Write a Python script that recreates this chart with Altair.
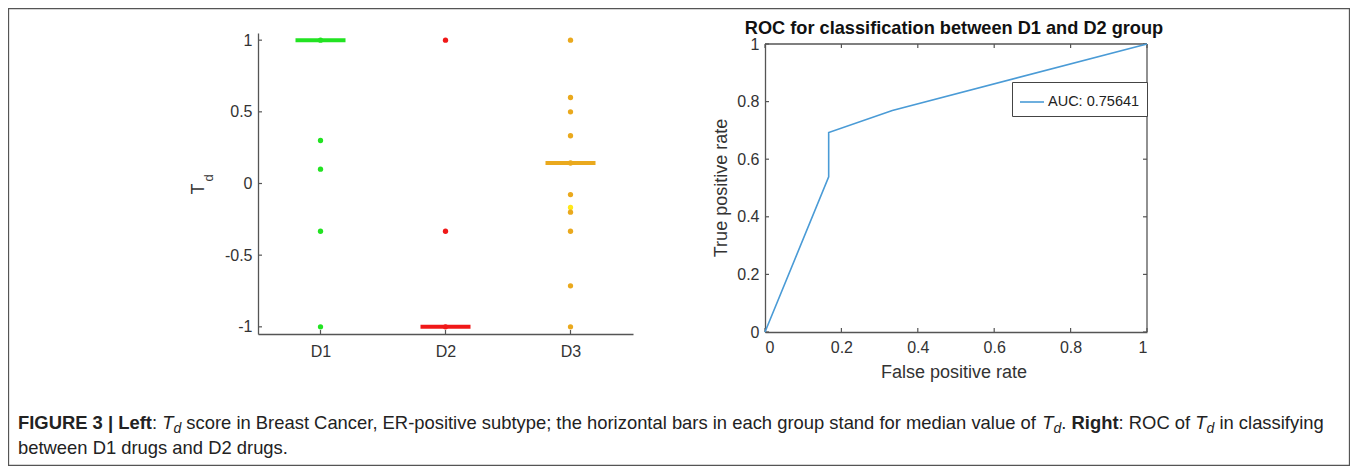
import altair as alt
import pandas as pd

# ---------------- data ----------------
categories = ["D1", "D2", "D3"]
d1_scores = [1.0, 0.3, 0.1, -0.333, -1.0]
d2_scores = [1.0, -0.333, -1.0]
d3_scores = [1.0, 0.6, 0.5, 0.333, 0.143, -0.077, -0.2, -0.333, -0.714, -1.0]
d3_light_scores = [-0.167]
median_scores = [1.0, -1.0, 0.143]
left_ticks = [-1, -0.5, 0, 0.5, 1]

roc_fpr = [0.0, 0.1667, 0.1667, 0.3333, 1.0]
roc_tpr = [0.0, 0.5385, 0.6923, 0.7692, 1.0]
roc_ticks = [0, 0.2, 0.4, 0.6, 0.8, 1]
auc_label = "AUC: 0.75641"

roc_title = "ROC for classification between D1 and D2 group"
x_title_right = "False positive rate"
y_title_right = "True positive rate"

caption_line1 = [
    ("FIGURE 3 | Left", "b"), (": ", "r"), ("T", "i"), ("d", "s"),
    (" score in Breast Cancer, ER-positive subtype; the horizontal bars in each group stand for median value of ", "r"),
    ("T", "i"), ("d", "s"), (". ", "r"), ("Right", "b"), (": ROC of ", "r"),
    ("T", "i"), ("d", "s"), (" in classifying", "r"),
]
caption_line2 = "between D1 drugs and D2 drugs."

# ---------------- layout / style ----------------
FONT = "Liberation Sans"
W, H = 1342, 458
L_X = [250, 625]
L_Y = [326, 25]
R_X = [757, 1139]
R_Y = [324, 36]
AXIS_COLOR = "#555555"
TEXT_COLOR = "#333333"
CAP_SIZE = 18.4
SUB_SIZE = 14

# Arial / Liberation Sans advance widths (per 1000 em) for caption layout
REG = {" ": 278, ",": 278, "-": 333, ".": 278, ":": 278, ";": 278, "|": 260}
REG.update({c: 556 for c in "0123456789"})
REG.update(dict(zip("ABCDEFGHIJKLMNOPQRSTUVWXYZ",
                    [667, 667, 722, 722, 667, 611, 778, 722, 278, 500, 667, 556, 833,
                     722, 778, 667, 778, 722, 667, 611, 722, 667, 944, 667, 667, 611])))
REG.update(dict(zip("abcdefghijklmnopqrstuvwxyz",
                    [556, 556, 500, 556, 556, 278, 556, 556, 222, 222, 500, 222, 833,
                     556, 556, 556, 556, 333, 500, 278, 556, 500, 722, 500, 500, 500])))
BOLD = {" ": 278, "|": 280, ":": 333}
BOLD.update({c: 556 for c in "0123456789"})
BOLD.update(dict(zip("ABCDEFGHIJKLMNOPQRSTUVWXYZ",
                     [722, 722, 722, 722, 667, 611, 778, 722, 278, 556, 722, 611, 833,
                      722, 778, 667, 778, 722, 667, 611, 722, 667, 944, 667, 667, 611])))
BOLD.update(dict(zip("abcdefghijklmnopqrstuvwxyz",
                     [556, 611, 556, 611, 556, 333, 611, 611, 278, 278, 556, 278, 889,
                      611, 611, 611, 611, 389, 556, 333, 611, 556, 778, 556, 556, 500])))


def text_width(s, size, bold=False):
    table = BOLD if bold else REG
    return sum(table.get(ch, 556) for ch in s) / 1000.0 * size


one = pd.DataFrame({"k": [0]})


def txt(s, x, y, size, weight=None, style=None, angle=None, align="left",
        baseline="alphabetic", color=TEXT_COLOR):
    mk = dict(fontSize=size, font=FONT, align=align, baseline=baseline, color=color)
    if weight:
        mk["fontWeight"] = weight
    if style:
        mk["fontStyle"] = style
    if angle is not None:
        mk["angle"] = angle
    return alt.Chart(one).mark_text(**mk).encode(
        x=alt.value(x), y=alt.value(y), text=alt.value(s))


# ---------------- left panel ----------------
pts = []
for v in d3_light_scores:
    pts.append({"pos": 3, "score": v, "grp": "D3 light"})
for i, (c, vals) in enumerate(zip(categories, [d1_scores, d2_scores, d3_scores])):
    for v in vals:
        pts.append({"pos": i + 1, "score": v, "grp": c})
pts_df = pd.DataFrame(pts)
med_df = pd.DataFrame({"pos": [1, 2, 3], "score": median_scores, "grp": categories})

color_scale = alt.Scale(domain=categories + ["D3 light"],
                        range=["#22e322", "#f01818", "#eaa91d", "#ffe81a"])

xsL = alt.Scale(domain=[0.5, 3.5], range=L_X, nice=False, zero=False)
ysL = alt.Scale(domain=[-1.05, 1.05], range=L_Y, nice=False, zero=False)

base_ax = dict(grid=False, ticks=False, tickSize=0, domainColor=AXIS_COLOR, domainWidth=1.3,
               labelFont=FONT, labelFontSize=16, labelColor=TEXT_COLOR, title=None)
cat_expr = "[" + ",".join("'%s'" % c for c in categories) + "][datum.value - 1]"
axLx = alt.Axis(orient="bottom", offset=L_Y[0] - H, values=[1, 2, 3], labelPadding=9,
                labelExpr=cat_expr, **base_ax)
axLy = alt.Axis(orient="left", offset=-L_X[0], values=left_ticks, labelPadding=6,
                labelExpr="'' + datum.value", **base_ax)


def LX(f=None, **kw):
    if f is None:
        return alt.X(scale=xsL, axis=axLx, **kw)
    return alt.X(f, scale=xsL, axis=axLx, **kw)


def LY(f=None, **kw):
    if f is None:
        return alt.Y(scale=ysL, axis=axLy, **kw)
    return alt.Y(f, scale=ysL, axis=axLy, **kw)


bars = alt.Chart(med_df).mark_tick(orient="horizontal", thickness=4, size=50, opacity=1).encode(
    x=LX("pos:Q"), y=LY("score:Q"), color=alt.Color("grp:N", scale=color_scale, legend=None))
points = alt.Chart(pts_df).mark_circle(size=28, opacity=1).encode(
    x=LX("pos:Q"), y=LY("score:Q"), color=alt.Color("grp:N", scale=color_scale, legend=None))

ytick_df = pd.DataFrame({"v": left_ticks})
xtick_df = pd.DataFrame({"p": [1, 2, 3]})
left_yticks = alt.Chart(ytick_df).mark_rule(color=AXIS_COLOR, strokeWidth=1.2).encode(
    x=LX(datum=0.5), x2=alt.X2(datum=0.5 + 4 / 125), y=LY("v:Q"))
left_xticks = alt.Chart(xtick_df).mark_rule(color=AXIS_COLOR, strokeWidth=1.2).encode(
    x=LX("p:Q"), y=LY(datum=-1.05), y2=alt.Y2(datum=-1.05 + 4 * 2.1 / 301))

left_group = alt.layer(left_yticks, left_xticks, bars, points)

# ---------------- right panel ----------------
xsR = alt.Scale(domain=[0, 1], range=R_X, nice=False, zero=False)
ysR = alt.Scale(domain=[0, 1], range=R_Y, nice=False, zero=False)
axRx = alt.Axis(orient="bottom", offset=R_Y[0] - H, values=roc_ticks, labelPadding=7,
                labelExpr="'' + datum.value", **base_ax)
axRy = alt.Axis(orient="left", offset=-R_X[0], values=roc_ticks, labelPadding=6,
                labelExpr="'' + datum.value", **base_ax)


def RX(f=None, **kw):
    if f is None:
        return alt.X(scale=xsR, axis=axRx, **kw)
    return alt.X(f, scale=xsR, axis=axRx, **kw)


def RY(f=None, **kw):
    if f is None:
        return alt.Y(scale=ysR, axis=axRy, **kw)
    return alt.Y(f, scale=ysR, axis=axRy, **kw)


rtick_df = pd.DataFrame({"t": roc_ticks})
box_top = alt.Chart(one).mark_rule(color=AXIS_COLOR, strokeWidth=1.3).encode(
    x=RX(datum=0), x2=alt.X2(datum=1), y=RY(datum=1))
box_right = alt.Chart(one).mark_rule(color=AXIS_COLOR, strokeWidth=1.3).encode(
    x=RX(datum=1), y=RY(datum=0), y2=alt.Y2(datum=1))
tk_b = alt.Chart(rtick_df).mark_rule(color=AXIS_COLOR, strokeWidth=1.2).encode(
    x=RX("t:Q"), y=RY(datum=0), y2=alt.Y2(datum=4 / 288))
tk_t = alt.Chart(rtick_df).mark_rule(color=AXIS_COLOR, strokeWidth=1.2).encode(
    x=RX("t:Q"), y=RY(datum=1), y2=alt.Y2(datum=1 - 4 / 288))
tk_l = alt.Chart(rtick_df).mark_rule(color=AXIS_COLOR, strokeWidth=1.2).encode(
    y=RY("t:Q"), x=RX(datum=0), x2=alt.X2(datum=4 / 382))
tk_r = alt.Chart(rtick_df).mark_rule(color=AXIS_COLOR, strokeWidth=1.2).encode(
    y=RY("t:Q"), x=RX(datum=1), x2=alt.X2(datum=1 - 4 / 382))

roc_df = pd.DataFrame({"fpr": roc_fpr, "tpr": roc_tpr,
                       "step": list(range(len(roc_fpr))), "series": auc_label})
roc_line = alt.Chart(roc_df).mark_line(strokeWidth=1.6).encode(
    x=RX("fpr:Q"), y=RY("tpr:Q"), order=alt.Order("step:Q"),
    color=alt.Color("series:N", scale=alt.Scale(domain=[auc_label], range=["#4a9bd6"]),
                    legend=alt.Legend(orient="none", legendX=1004, legendY=74, title=None,
                                      symbolType="stroke", symbolSize=576,
                                      symbolStrokeWidth=1.6, labelFont=FONT,
                                      labelFontSize=14.5, labelColor="#222222",
                                      labelOffset=3, padding=7,
                                      strokeColor="#444444", fillColor="white")))

right_group = alt.layer(tk_b, tk_t, tk_l, tk_r, box_top, box_right, roc_line)

# ---------------- texts ----------------
decos = [
    txt(roc_title, 946, 21, 18.2, weight="bold", align="center", baseline="middle",
        color="#111111"),
    txt(x_title_right, 946, 365, 18, align="center", baseline="middle"),
    txt(y_title_right, 714, 180, 18, angle=270, align="center", baseline="middle"),
    txt("T", 191, 181, 18, angle=270, align="center", baseline="middle"),
    txt("d", 201, 170, 13, angle=270, align="center", baseline="middle"),
]

x = 10.0
base1 = 421
for s, kind in caption_line1:
    size = SUB_SIZE if kind == "s" else CAP_SIZE
    bold = kind == "b"
    lead = len(s) - len(s.lstrip(" "))
    xs = x + text_width(" " * lead, size, bold)
    decos.append(txt(s.strip(" "), xs, base1 + (4 if kind == "s" else 0), size,
                     weight="bold" if bold else None,
                     style="italic" if kind in ("i", "s") else None,
                     color="#222222"))
    x += text_width(s, size, bold)
decos.append(txt(caption_line2, 10, 446, CAP_SIZE, color="#222222"))

border = alt.Chart(one).mark_rect(filled=False, stroke="#555555", strokeWidth=1.3).encode(
    x=alt.value(0.5), x2=alt.value(W - 0.5), y=alt.value(0.5), y2=alt.value(H - 0.5))

chart = alt.layer(border, left_group, right_group, *decos).resolve_scale(
    x="independent", y="independent", color="independent"
).properties(
    width=W, height=H, autosize=alt.AutoSizeParams(type="none"), padding=0
).configure_view(strokeWidth=0)

chart.save("out.html", embed_options={"renderer": "svg", "actions": False})
